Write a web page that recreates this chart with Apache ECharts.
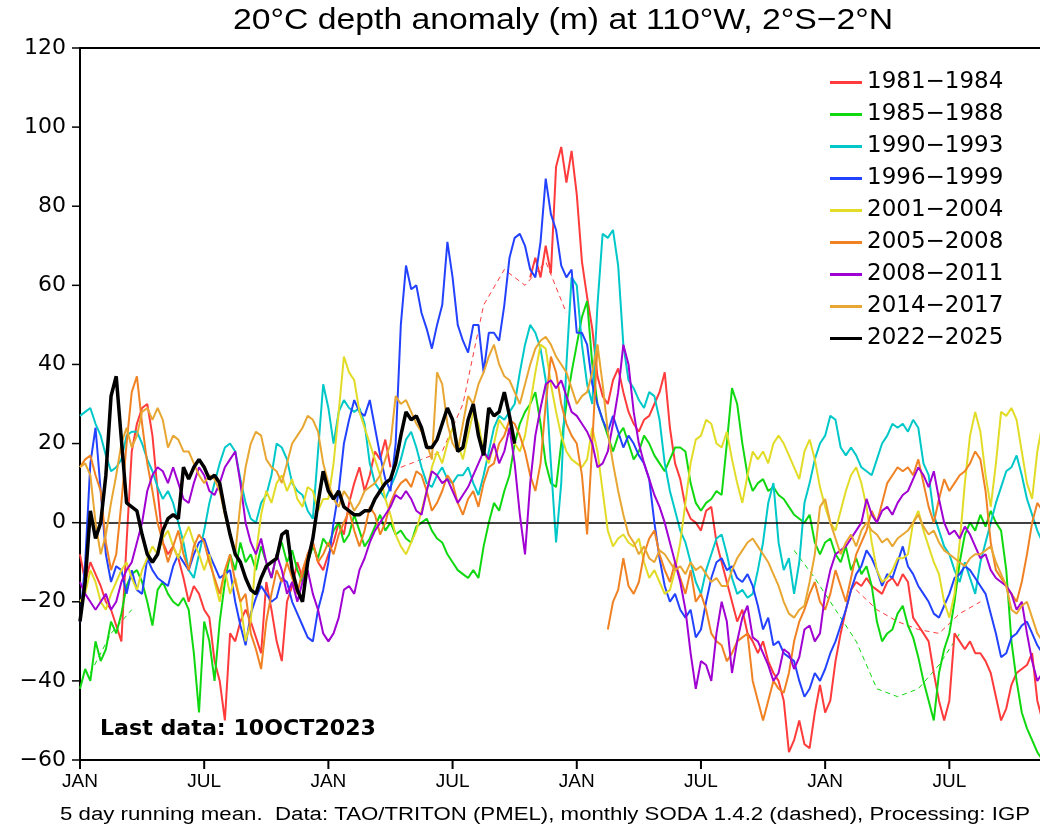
<!DOCTYPE html>
<html><head><meta charset="utf-8">
<script src="https://cdn.jsdelivr.net/npm/echarts@6/dist/echarts.min.js"></script>
<style>html,body{margin:0;padding:0;background:#fff}#c{width:1040px;height:834px}</style>
</head><body><div id="c"></div>
<script>
// ---- time grid: one sample every quarter month from JAN of year 1 ----
const STEP = 0.25;
const X_MAX = 46.38;
const X_TICK = 6;
const tickMonths = [0, 6, 12, 18, 24, 30, 36, 42];
const tickLabels = ['JAN', 'JUL', 'JAN', 'JUL', 'JAN', 'JUL', 'JAN', 'JUL'];
const yMin = -60, yMax = 120, yStep = 20;
const yTickValues = [-60, -40, -20, 0, 20, 40, 60, 80, 100, 120];

const periods = ['1981\u22121984', '1985\u22121988', '1990\u22121993', '1996\u22121999', '2001\u22122004', '2005\u22122008', '2008\u22122011', '2014\u22122017', '2022\u22122025'];
const colors = ['#ff3b3b', '#10d810', '#00c8c8', '#2342ff', '#e2dc28', '#f08224', '#a000d2', '#e8a632', '#000000'];

// ---- 20C depth anomaly (m), 5-day running mean, sampled every STEP months ----
const y1981 = [
 -8,-15,-10,-13,-16,-20,-22,-26,-30,-5,18,25,29,30,22,8,-5,-8,-6,-9,-14,-20,-16,-18,
 -22,-24,-35,-40,-50,-28,-30,-25,-22,-25,-29,-33,-15,-22,-30,-35,-20,-16,-10,-14,-8,-5,-10,-12,
 -8,-5,0,-3,5,10,14,8,12,18,16,21,14,null,null,null,null,null,null,null,null,null,null,null,
 null,null,null,null,null,null,null,null,null,null,null,null,null,null,null,62,67,62,70,63,90,95,86,94,
 83,66,57,49,37,32,30,36,39,33,28,25,23,26,27,30,33,38,24,15,11,4,1,0,
 -2,3,4,-5,-10,-15,-20,-25,-22,-28,-30,-33,-30,-35,-38,-40,-45,-58,-55,-50,-56,-57,-48,-41,
 -48,-45,-35,-28,-22,-17,-15,-16,-14,-16,-17,-18,-15,-14,-16,-13,-15,-24,-26,-28,-30,-38,-45,-50,
 -45,-28,-30,-32,-30,-33,-33,-35,-38,-44,-50,-47,-41,-38,-37,-36,-33,-45,-50
];
const y1985 = [
 -42,-37,-40,-30,-35,-32,-25,-28,-23,-16,-13,-12,-15,-20,-26,-17,-15,-18,-20,-21,-19,-22,-33,-48,
 -25,-30,-40,-25,-15,-8,-12,-5,-10,-8,-12,-6,-10,-14,-8,-5,-10,-7,-12,-15,-10,-6,-9,-4,
 -6,-2,0,-5,-3,2,-2,-6,-4,-1,2,-2,0,-3,-2,-4,-5,-1,0,1,-2,-4,-5,-8,
 -10,-12,-13,-14,-12,-14,-6,0,5,3,8,12,20,25,28,30,33,25,15,10,9,20,30,38,
 45,52,56,40,30,26,22,18,22,24,20,16,18,22,20,17,15,13,16,19,19,18,10,5,
 3,5,6,8,7,20,34,30,20,12,8,10,11,8,9,7,6,4,2,1,0,2,-5,-8,
 -5,-4,-8,-10,-6,-12,-9,-13,-11,-16,-25,-30,-28,-27,-23,-21,-26,-29,-34,-40,-45,-50,-38,-32,
 -28,-20,-10,-3,0,-2,2,-1,3,0,-2,-12,-30,-40,-48,-52,-55,-58,-60
];
const y1990 = [
 27,28,29,25,22,17,13,14,16,22,23,23,20,16,13,9,6,8,5,0,-5,-12,-14,-8,
 -2,5,10,15,19,20,18,11,5,1,0,5,7,12,20,19,16,10,8,7,3,1,18,35,
 29,20,28,31,29,28,29,25,15,10,8,6,9,12,16,21,23,19,14,10,9,12,14,11,
 10,12,12,14,10,7,12,18,24,27,26,28,30,38,45,50,48,44,36,15,-5,10,40,62,
 60,45,35,30,55,73,72,74,65,45,36,34,31,29,33,32,26,15,8,3,-2,-5,-10,-15,
 -18,-12,-8,-4,-3,-8,-14,-18,-17,-19,-18,-12,-5,5,10,-5,-12,-9,-18,-10,5,10,16,20,
 22,27,26,19,17,19,17,14,13,12,16,20,22,25,24,25,23,26,24,15,12,2,-2,-6,
 -8,-12,-15,-10,-14,-18,-10,-5,0,5,9,13,14,17,12,6,2,-2,-5
];
const y1996 = [
 -25,-10,15,24,8,-8,-15,-11,-12,-18,-12,-17,-18,-9,-12,-14,-15,-16,-11,-8,-10,-12,-8,-5,
 -4,-8,-11,-14,-13,-12,-20,-26,-31,-23,-19,-16,-18,-20,-19,-14,-15,-20,-23,-26,-29,-30,-22,-17,
 -10,0,8,20,26,31,28,27,31,24,17,11,8,20,50,65,59,60,53,49,44,50,55,71,
 62,50,46,43,50,50,38,48,48,46,55,67,72,73,70,64,62,71,87,78,74,65,62,64,
 48,48,45,35,30,26,23,27,23,19,22,20,17,15,11,0,-9,-16,-20,-18,-22,-24,-22,-29,
 -27,-20,-14,-10,-9,-12,-11,-14,-15,-13,-16,-21,-27,-24,-31,-30,-33,-34,-35,-40,-44,-42,-38,-40,
 -37,-33,-30,-26,-22,-17,-13,-11,-7,-9,-12,-16,-13,-14,-10,-6,-11,-13,-16,-18,-20,-23,-24,-21,
 -18,-14,-13,-11,-12,-14,-16,-18,-23,-28,-34,-33,-29,-28,-26,-25,-28,-31,-33
];
const y2001 = [
 -20,-18,-12,-15,-20,-22,-18,-15,-12,-10,-14,-17,-12,-9,-6,-8,-4,-2,-6,-9,-4,-1,-5,-8,
 -12,-8,-15,-20,-12,-18,-14,-20,-30,-25,-8,2,8,5,10,12,8,11,6,4,9,8,3,6,
 6,15,28,42,38,36,28,24,20,16,12,6,2,-3,-6,-8,-5,-2,3,8,14,18,15,20,
 24,20,16,22,28,25,18,15,20,26,24,23,20,18,22,30,38,45,44,35,28,22,18,16,
 15,14,16,24,18,8,-2,-6,-4,-3,-5,-6,-4,-10,-14,-12,-15,-18,-17,-12,-5,5,15,21,
 22,26,25,20,19,23,16,10,5,12,18,16,18,15,20,22,20,17,14,11,18,21,16,9,
 4,0,-2,3,8,12,14,10,4,-5,-12,-15,-14,-12,-9,-9,-8,0,3,-2,-6,-10,-13,-20,
 -24,-18,-5,10,22,28,23,12,4,15,28,27,29,26,18,10,6,18,25
];
const y2005 = [
 14,16,17,12,8,-5,-12,-8,5,20,33,37,25,15,8,0,-5,-10,-6,-2,-8,-12,-6,-3,
 -5,-10,-14,-18,-12,-8,-15,-20,-18,-28,-32,-37,-25,-18,-12,-15,-10,-14,-18,-12,-8,-5,-10,-8,
 -5,-8,-3,0,3,-2,-6,-2,4,2,-3,0,5,8,10,11,9,13,12,8,3,5,8,12,
 10,5,2,6,8,4,10,14,15,20,22,26,25,22,18,12,8,15,30,42,38,30,25,22,
 20,12,-3,20,45,null,-27,-20,-17,-9,-16,-18,-15,-8,-4,-2,-8,-12,-15,-10,-14,-18,-12,-20,
 -18,-22,-28,-30,-31,-35,-33,-30,-29,-28,-40,-45,-50,-45,-40,-42,-43,-38,-30,-25,-22,-18,-15,-20,
 -22,-18,-12,-16,-20,-14,-8,-5,-2,3,0,5,10,12,14,13,14,12,16,10,4,0,6,11,
 8,10,12,13,15,18,16,8,-5,-12,-14,-16,-18,-20,-15,-8,0,5,3
];
const y2008 = [
 -15,-18,-20,-22,-20,-18,-22,-20,-15,-12,-10,-5,0,8,12,14,13,10,14,10,6,5,10,14,
 12,8,7,10,14,16,18,10,0,-5,-8,-4,-10,-14,-8,-12,-18,-15,-20,-15,-12,-18,-22,-28,
 -30,-28,-24,-17,-16,-18,-12,-9,-5,-2,0,2,4,7,6,8,6,3,2,8,13,12,10,11,
 8,5,7,9,12,15,18,16,20,15,18,24,15,2,-8,10,22,29,35,36,34,36,32,28,
 27,25,23,20,14,15,18,25,33,45,40,28,20,15,11,7,4,0,-5,-10,-15,-22,-33,-42,
 -35,-36,-40,-28,-20,-25,-38,-30,-24,-21,-29,-30,-33,-36,-40,-38,-32,-33,-37,-34,-27,-26,-30,-28,
 -18,-12,-8,-7,-6,-4,-2,0,6,2,0,3,4,2,5,7,8,11,14,12,9,13,6,0,
 -3,-2,-4,-1,-3,-6,-9,-8,-12,-14,-15,-16,-18,-22,-20,-28,-35,-40,-38
];
const y2014 = [
 14,15,12,0,-8,-3,5,12,20,24,19,22,28,29,26,29,26,19,22,21,18,18,15,12,
 10,12,11,8,2,-3,-8,5,14,20,23,22,16,14,13,10,15,20,22,24,27,26,23,15,
 10,6,4,8,6,3,5,8,9,10,12,16,20,32,30,31,28,25,23,20,16,38,35,25,
 20,18,25,32,30,35,38,42,45,40,37,36,33,30,35,40,44,46,47,45,42,40,38,34,
 30,32,33,38,45,35,23,15,8,2,-3,-5,-8,-6,-9,-10,-7,-8,-10,-12,-11,-13,-10,-12,
 -11,-13,-15,-14,-16,-16,-12,-9,-7,-5,-4,-6,-8,-10,-13,-16,-20,-23,-24,-22,-21,-15,-8,4,
 6,0,-4,-8,-5,-3,-6,-2,0,-2,-3,-5,-4,-6,-4,-3,-2,0,2,-1,-3,-2,-5,-7,
 -8,-9,-10,-11,-9,-8,-8,-7,-6,-10,-13,-16,-22,-23,-21,-20,-24,-28,-30
];
const y2022 = [
 -25,-15,3,-4,0,12,32,37,21,5,4,3,-3,-8,-10,-8,-2,1,2,1,14,11,14,16,
 14,11,12,10,3,-3,-8,-10,-14,-17,-18,-14,-11,-10,-9,-3,-2,-12,-17,-20,-10,-4,5,13,
 8,6,8,4,3,2,2,3,3,6,8,10,11,15,22,28,26,27,24,19,19,21,25,29,
 26,18,19,26,30,22,17,29,27,28,33,27,20
];

// ---- monthly SODA 1.4.2 (dashed): [month, value] ----
const soda1981 = [[15.5,14],[16.5,16],[17.5,18],[18.5,30],[19.5,55],[20.5,64],[21.5,60],[22.5,66],[23.5,53]];
const soda1981b = [[37.5,-17],[38.5,-22],[39.5,-25],[40.5,-27],[41.5,-28],[42.5,-23],[43.5,-20]];
const soda1985 = [[0.5,-38],[1.5,-28],[2.5,-22]];
const soda1985b = [[34.5,-7],[35.5,-14],[36.5,-22],[37.5,-30],[38.5,-42],[39.5,-44],[40.5,-42],[41.5,-36],[42.5,-28]];

const solid = [y1981, y1985, y1990, y1996, y2001, y2005, y2008, y2014, y2022];
const toPairs = vals => vals.map((v, k) => [k * STEP, v]);

const chart = echarts.init(document.getElementById('c'), null, {renderer: 'canvas'});

const series = solid.map((vals, i) => ({
  name: periods[i], type: 'line', data: toPairs(vals),
  symbol: 'none', showSymbol: false, animation: false, z: 2 + i,
  lineStyle: {color: colors[i], width: i === 8 ? 3.5 : 2},
  itemStyle: {color: colors[i]},
  emphasis: {disabled: true}
}));
[[soda1981, 0], [soda1981b, 0], [soda1985, 1], [soda1985b, 1]].forEach(([d, ci]) => {
  series.push({type: 'line', data: d, symbol: 'none', animation: false, z: 1,
    lineStyle: {color: colors[ci], width: 1, type: [5, 4]}, emphasis: {disabled: true}});
});
series.push({type: 'line', data: [], markLine: {silent: true, symbol: 'none', animation: false,
  label: {show: false}, lineStyle: {color: '#000', width: 1.5, type: 'solid'}, data: [{yAxis: 0}]}, z: 20});

// outward tick marks, placed through the axis scales (custom series, not clipped)
series.push({type: 'custom', clip: false, silent: true, z: 60, animation: false,
  data: tickMonths.map(m => [m, yMin]),
  renderItem: (params, api) => {
    const p = api.coord([api.value(0), api.value(1)]);
    return {type: 'line', shape: {x1: p[0], y1: p[1], x2: p[0], y2: p[1] + 9}, style: {stroke: '#000', lineWidth: 2}};
  }});
series.push({type: 'custom', clip: false, silent: true, z: 60, animation: false,
  data: yTickValues.map(v => [0, v]),
  renderItem: (params, api) => {
    const p = api.coord([api.value(0), api.value(1)]);
    return {type: 'line', shape: {x1: p[0] - 8, y1: p[1], x2: p[0], y2: p[1]}, style: {stroke: '#000', lineWidth: 1.5}};
  }});

function fitText(text, font, width) {
  const ctx = document.createElement('canvas').getContext('2d');
  ctx.font = font;
  return width / ctx.measureText(text).width;
}
const titleText = '20\u00b0C depth anomaly (m) at 110\u00b0W, 2\u00b0S\u22122\u00b0N';
const titleFont = "30px 'Liberation Sans Narrow', 'Liberation Sans', sans-serif";
const footText = '5 day running mean.  Data: TAO/TRITON (PMEL), monthly SODA 1.4.2 (dashed), Processing: IGP';
const footFont = "18px 'Liberation Sans Narrow', 'Liberation Sans', sans-serif";
const lastText = 'Last data: 10OCT2023';
const lastFont = "bold 21px 'DejaVu Sans', sans-serif";

chart.setOption({
  animation: false,
  backgroundColor: '#fff',
  grid: {left: 80, top: 48, right: 0, bottom: 74, show: false, outerBoundsMode: 'none', containLabel: false},
  xAxis: [{type: 'value', min: 0, max: X_MAX, interval: X_TICK, position: 'bottom',
    axisLine: {show: true, onZero: false, lineStyle: {color: '#000', width: 2}},
    axisTick: {show: false},
    axisLabel: {margin: 12, color: '#000', fontSize: 19, showMaxLabel: false,
      fontFamily: "'Liberation Sans Narrow', 'Liberation Sans', sans-serif",
      formatter: v => { const i = tickMonths.indexOf(v); return i >= 0 ? tickLabels[i] : ''; }},
    splitLine: {show: false}},
   {type: 'value', min: 0, max: X_MAX, position: 'top',
    axisLine: {show: true, onZero: false, lineStyle: {color: '#000', width: 2}},
    axisTick: {show: false}, axisLabel: {show: false}, splitLine: {show: false}}],
  yAxis: {type: 'value', min: yMin, max: yMax, interval: yStep,
    axisLine: {show: true, onZero: false, lineStyle: {color: '#000', width: 2}},
    axisTick: {show: false},
    axisLabel: {margin: 14, color: '#000', fontSize: 22, fontFamily: "'DejaVu Sans', sans-serif",
      formatter: v => (v < 0 ? '\u2212' + Math.abs(v) : String(v))},
    splitLine: {show: false}},
  legend: {data: periods, orient: 'vertical', left: 830, top: 71, padding: 0, itemGap: 9,
    icon: 'rect', itemWidth: 32, itemHeight: 3,
    textStyle: {fontSize: 23, color: '#000', fontFamily: "'DejaVu Sans', sans-serif"},
    selectedMode: false},
  graphic: [
    {type: 'text', x: 563, y: 21, scaleX: fitText(titleText, titleFont, 660), z: 50,
      style: {text: titleText, font: titleFont, fill: '#000', textAlign: 'center', textVerticalAlign: 'middle', verticalAlign: 'middle'}},
    {type: 'text', x: 545, y: 815, scaleX: fitText(footText, footFont, 970), z: 50,
      style: {text: footText, font: footFont, fill: '#000', textAlign: 'center', textVerticalAlign: 'middle', verticalAlign: 'middle'}},
    {type: 'text', x: 100, y: 730, scaleX: fitText(lastText, lastFont, 276), z: 50,
      style: {text: lastText, font: lastFont, fill: '#000', textAlign: 'left', textVerticalAlign: 'middle', verticalAlign: 'middle'}}
  ],
  series: series
});
</script></body></html>
